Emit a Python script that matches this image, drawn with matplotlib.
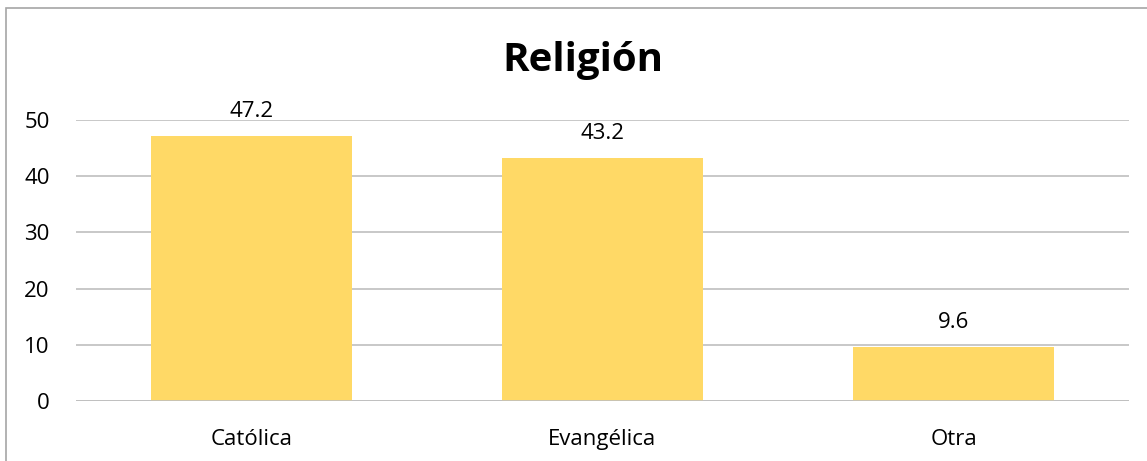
import matplotlib.pyplot as plt
from matplotlib.patches import Rectangle

categories = ['Católica', 'Evangélica', 'Otra']
values = [47.2, 43.2, 9.6]
yticks = [0, 10, 20, 30, 40, 50]

plt.rcParams['font.family'] = ['Open Sans', 'DejaVu Sans']

fig = plt.figure(figsize=(11.47, 4.61), dpi=100)
ax = fig.add_axes([76 / 1147, 1 - 401 / 461, (1129 - 76) / 1147, (401 - 120) / 461])

x = range(len(categories))
ax.bar(x, values, width=0.573, color='#FFD966', zorder=2)
for xi, v in zip(x, values):
    ax.annotate(f'{v}', (xi, v), xytext=(0, 10), textcoords='offset points',
                ha='center', va='bottom', fontsize=16)

ax.set_xlim(-0.5, len(categories) - 0.5)
ax.set_ylim(0, 50)
ax.set_yticks(yticks)
ax.set_xticks(list(x))
ax.set_xticklabels(categories)
ax.tick_params(axis='both', length=0, labelsize=16)
ax.tick_params(axis='x', pad=20)
ax.tick_params(axis='y', pad=19)
ax.yaxis.grid(True, color='#BFBFBF', linewidth=1.2, zorder=0)
for s in ax.spines.values():
    s.set_visible(False)
ax.axhline(0, color='#BFBFBF', linewidth=1.2, zorder=3)

fig.text(583 / 1147, 1 - 60 / 461, 'Religión', ha='center', va='center',
         fontsize=29, fontweight='bold')

fig.patches.append(Rectangle((6 / 1147, -0.1), 1.2, 1.1 - 8 / 461,
                             transform=fig.transFigure, fill=False,
                             edgecolor='#A6A6A6', linewidth=1.2))

fig.savefig('out.png', dpi=100)
